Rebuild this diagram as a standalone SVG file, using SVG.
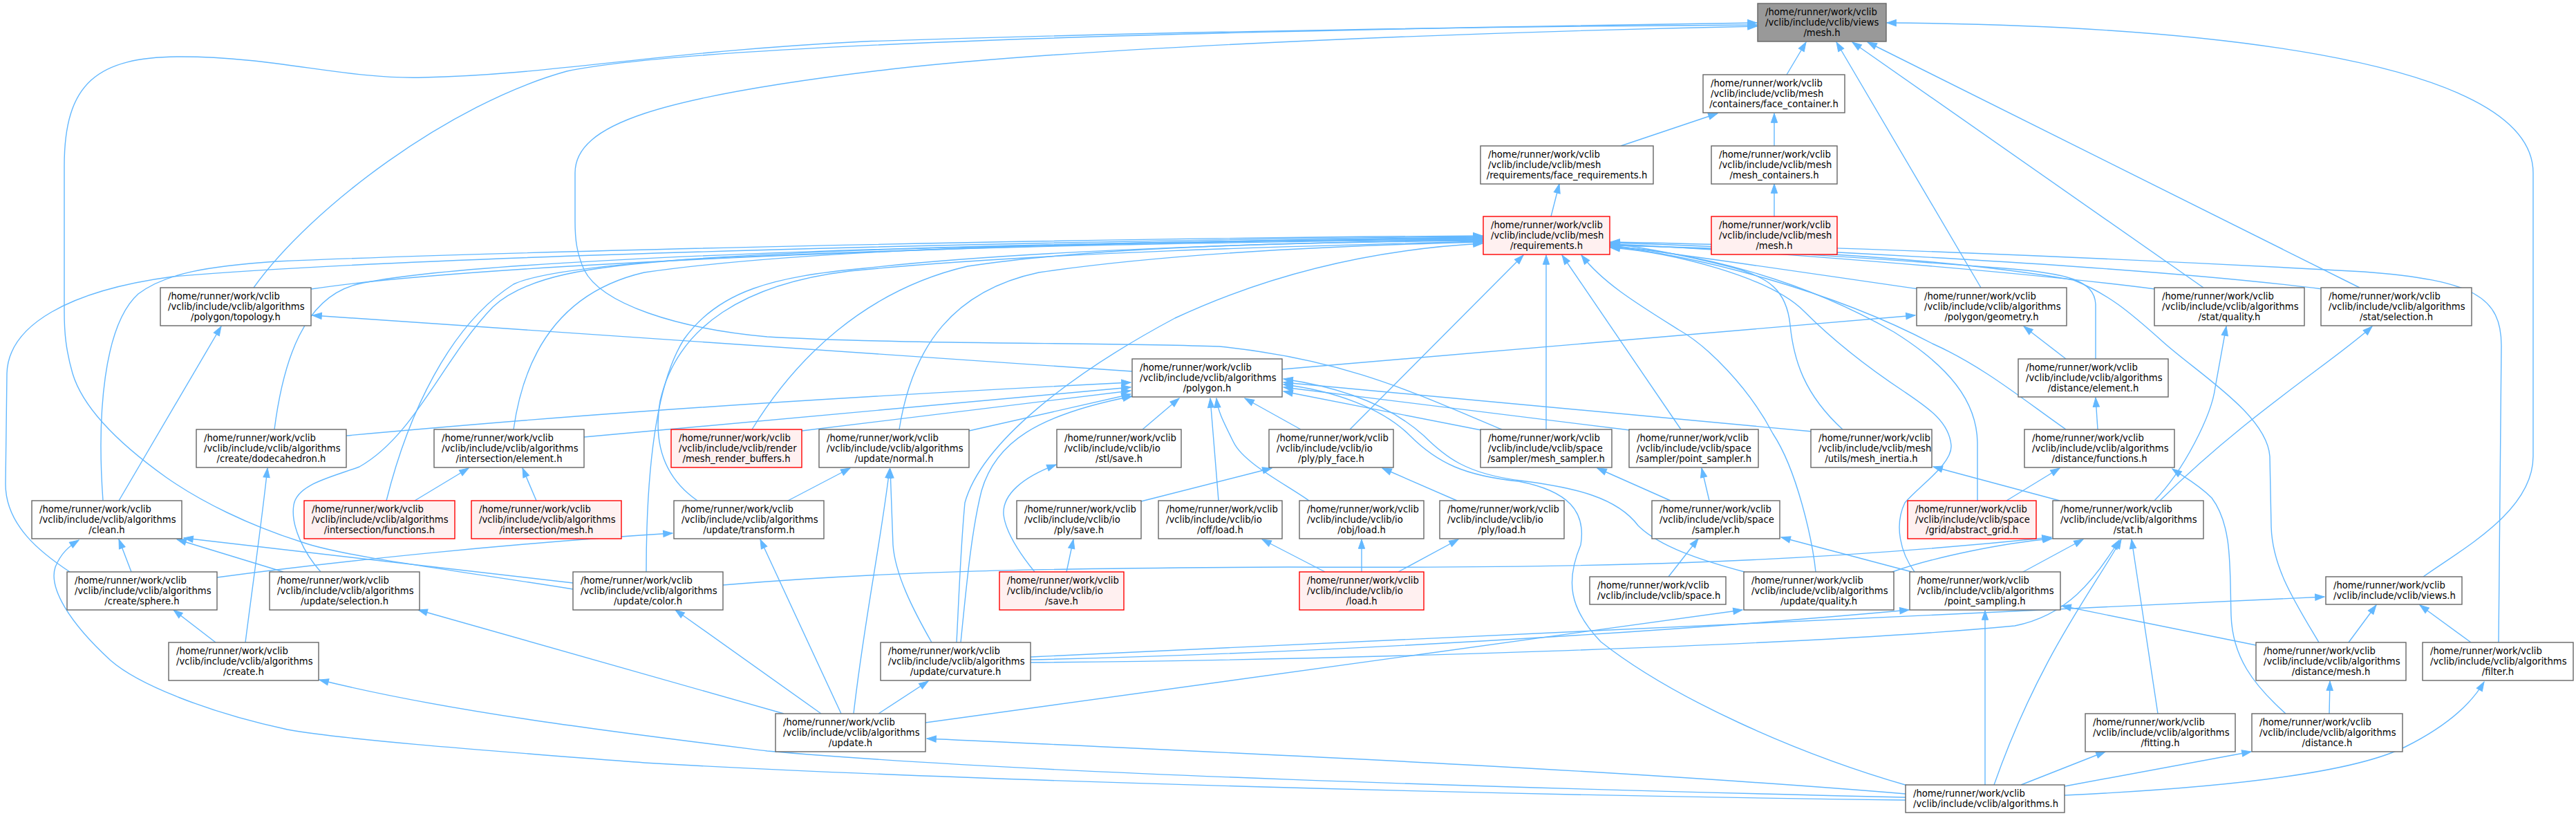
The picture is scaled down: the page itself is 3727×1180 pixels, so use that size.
<svg xmlns="http://www.w3.org/2000/svg" width="3727" height="1180" viewBox="0 0 3727 1180">
<defs>
<style>
.n rect{fill:#ffffff;stroke:#666666;stroke-width:1.4}
.n.r rect{fill:#fff0f0;stroke:#ff0000}
.n.g rect{fill:#999999;stroke:#666666}
.n text{font-family:"DejaVu Sans",sans-serif;font-size:13.2px;fill:#000000}
.n text.c{text-anchor:middle}
#edges path{fill:none;stroke:#63b8ff;stroke-width:1.4;marker-end:url(#a)}
</style>
<marker id="a" markerUnits="userSpaceOnUse" viewBox="0 0 14 10" markerWidth="14" markerHeight="10" refX="13.3" refY="4.65" orient="auto" overflow="visible">
<path d="M0,0L13.3,4.65L0,9.3z" fill="#63b8ff" stroke="#63b8ff" stroke-width="1"/>
</marker>
</defs>
<rect x="0" y="0" width="3727" height="1180" fill="#ffffff"/>
<g id="edges">
<path d="M2585,108 L2613,61"/>
<path d="M2345,211 L2485,164"/>
<path d="M2567,211 L2567,164"/>
<path d="M2244,313 L2256,266"/>
<path d="M2567,313 L2567,266"/>
<path d="M2866,416 L2657,61"/>
<path d="M3188,416 L2680,61"/>
<path d="M3414,416 L2702,61"/>
<path d="M3506,834 C3560,795 3665,740 3665,660 L3665,250 C3665,80 3150,36 2730,33"/>
<path d="M367,416 C450,300 650,150 820,103 C1000,65 1700,45 2542,33"/>
<path d="M829,852 C640,822 500,805 440,785 C360,760 290,725 240,690 C170,640 120,590 105,540 C95,505 93,480 93,450 L93,240 C93,120 140,82 262,82 C400,82 500,115 612,112 C800,108 950,75 1250,60 C1700,45 2200,38 2542,36"/>
<path d="M2173,621 C2050,570 1950,520 1764,501 C1600,495 1300,498 1110,487 C980,475 870,440 845,390 C834,365 832,345 832,320 L832,250 C832,180 950,140 1289,100 C1600,65 2200,45 2542,38"/>
<path d="M450,418 C700,380 1500,350 2145,343"/>
<path d="M149,724 C140,600 150,470 200,425 C240,395 300,385 400,378 C700,365 1500,345 2145,341"/>
<path d="M101,827 C60,800 8,760 8,700 L10,540 C12,470 100,420 250,400 C600,370 1500,348 2145,342"/>
<path d="M397,621 C410,520 440,430 517,411 C700,370 1500,350 2145,344"/>
<path d="M743,621 C760,500 820,420 932,394 C1200,355 1700,348 2145,345"/>
<path d="M559,724 C590,600 650,470 743,411 C850,360 1600,350 2145,346"/>
<path d="M1088,621 C1150,520 1250,420 1400,385 C1600,355 1900,350 2145,348"/>
<path d="M1301,621 C1320,500 1380,420 1503,394 C1700,365 1950,355 2145,350"/>
<path d="M1009,724 C960,690 945,640 955,580 C980,470 1080,410 1229,392 C1500,365 1900,355 2145,349"/>
<path d="M935,827 C935,700 945,560 990,490 C1040,420 1120,400 1250,388 C1500,360 1900,350 2145,347"/>
<path d="M464,827 C440,800 420,760 425,730 C430,700 480,690 520,675 C600,630 640,520 713,444 C760,400 850,385 1000,375 C1400,355 1800,350 2145,346"/>
<path d="M1384,929 C1388,850 1390,790 1396,727 C1420,640 1550,540 1700,460 C1850,390 2000,360 2145,352"/>
<path d="M1953,621 L2204,369"/>
<path d="M2237,621 L2237,369"/>
<path d="M2432,621 L2260,369"/>
<path d="M2627,827 C2622,780 2600,680 2565,627 C2530,560 2470,500 2429,477 C2370,440 2320,410 2288,369"/>
<path d="M2666,621 C2610,570 2595,520 2590,470 C2585,420 2560,400 2500,385 C2420,365 2370,357 2330,352"/>
<path d="M2776,418 C2650,400 2450,370 2330,355"/>
<path d="M2861,724 L2861,640 C2860,580 2820,530 2740,480 C2600,400 2450,365 2330,356"/>
<path d="M2989,621 C2930,580 2870,530 2796,497 C2650,420 2450,368 2330,357"/>
<path d="M2770,827 C2750,800 2740,760 2756,727 C2780,700 2825,670 2823,644 C2820,610 2790,590 2756,567 C2700,530 2650,490 2610,450 C2560,400 2420,365 2330,358"/>
<path d="M3118,418 C2900,390 2500,360 2330,353"/>
<path d="M3032,519 L3032,440 C3030,405 2990,395 2900,388 C2600,365 2450,358 2330,354"/>
<path d="M3355,929 C3320,870 3287,820 3286,760 L3284,660 C3280,600 3180,540 3129,494 C3080,450 3050,425 3000,405 C2800,370 2500,358 2330,355"/>
<path d="M3360,418 C3100,385 2600,360 2330,351"/>
<path d="M3615,929 L3619,500 C3619,430 3580,405 3420,393 C3000,370 2600,355 2330,350"/>
<path d="M1638,537 C1300,512 900,485 452,456"/>
<path d="M1855,534 L2771,456"/>
<path d="M501,630 C700,612 1000,585 1636,553"/>
<path d="M845,632 L1636,560"/>
<path d="M1160,623 L1636,565"/>
<path d="M1402,623 L1636,570"/>
<path d="M1390,929 C1398,850 1405,770 1420,710 C1440,640 1500,600 1638,573"/>
<path d="M1653,621 L1706,576"/>
<path d="M1763,724 L1751,576"/>
<path d="M1894,724 C1860,700 1800,670 1785,640 C1770,610 1762,595 1760,576"/>
<path d="M1882,621 L1801,576"/>
<path d="M2143,622 L1857,566"/>
<path d="M2358,622 L1857,560"/>
<path d="M2622,624 L1857,553"/>
<path d="M2760,1136 C2600,1090 2420,1010 2316,928 C2270,880 2265,840 2287,788 C2295,740 2270,710 2197,696 C2120,688 2080,670 2040,630 C2000,590 1930,565 1857,556"/>
<path d="M2524,827 C2460,810 2400,790 2370,760 C2340,720 2280,705 2200,695 C2120,685 2090,660 2060,630 C2010,585 1940,560 1857,548"/>
<path d="M1348,929 C1320,880 1295,830 1292,788 L1288,678"/>
<path d="M1235,1032 C1250,900 1275,780 1287,678"/>
<path d="M1217,1032 L1100,780"/>
<path d="M1188,1032 L977,882"/>
<path d="M1271,1032 L1343,985"/>
<path d="M1134,1032 L605,882"/>
<path d="M1339,1045 L2521,882"/>
<path d="M2757,1148 C2300,1110 1700,1085 1341,1068"/>
<path d="M2757,1153 C2200,1140 1500,1120 1110,1086 C900,1060 650,1030 462,983"/>
<path d="M2757,1157 C2200,1150 1400,1130 932,1103 C700,1085 500,1070 416,1055 C300,1030 200,990 160,955 C100,900 70,850 80,820 C88,800 100,790 114,781"/>
<path d="M1497,827 C1475,800 1455,770 1452,744 C1450,715 1480,690 1528,672"/>
<path d="M1543,827 L1553,780"/>
<path d="M1917,827 L1826,780"/>
<path d="M1970,827 L1970,780"/>
<path d="M2023,827 L2110,780"/>
<path d="M1651,725 L1840,677"/>
<path d="M2108,724 L2000,677"/>
<path d="M2417,724 L2311,677"/>
<path d="M2473,724 L2462,677"/>
<path d="M2414,834 L2457,779"/>
<path d="M2766,827 L2577,777"/>
<path d="M2980,724 L2797,675"/>
<path d="M3117,724 C3160,680 3200,600 3205,560 C3212,520 3218,490 3221,472"/>
<path d="M3125,724 C3250,600 3380,520 3432,472"/>
<path d="M2927,827 L3014,780"/>
<path d="M3122,1032 L3084,780"/>
<path d="M2885,1135 C2950,950 3030,850 3069,780"/>
<path d="M1491,958 C1900,955 2600,935 2915,905 C2990,890 3030,840 3066,781"/>
<path d="M1491,950 C1900,935 2600,900 3363,863"/>
<path d="M1491,954 C1900,945 2400,915 2762,882"/>
<path d="M2738,827 C2800,805 2900,785 2969,779"/>
<path d="M1046,846 C1300,825 1500,822 1864,820 C2300,822 2600,815 2968,777"/>
<path d="M829,843 C600,815 400,795 266,778"/>
<path d="M410,827 L256,780"/>
<path d="M190,827 L172,780"/>
<path d="M314,835 C500,810 750,785 973,771"/>
<path d="M312,929 L251,882"/>
<path d="M355,929 C365,850 378,760 387,677"/>
<path d="M172,724 L320,472"/>
<path d="M600,724 L678,677"/>
<path d="M776,724 L756,677"/>
<path d="M1140,724 L1230,677"/>
<path d="M2989,519 L2928,472"/>
<path d="M3035,621 L3032,575"/>
<path d="M2903,724 L2980,677"/>
<path d="M3307,1032 C3260,990 3230,950 3228,890 C3226,820 3230,760 3200,720 C3180,700 3160,690 3143,678"/>
<path d="M3370,1032 L3371,985"/>
<path d="M3398,929 L3438,875"/>
<path d="M3575,929 L3501,875"/>
<path d="M3264,933 L2983,876"/>
<path d="M2872,1135 L2872,883"/>
<path d="M2924,1135 L3046,1087"/>
<path d="M2987,1137 L3257,1087"/>
<path d="M2987,1150 C3200,1140 3400,1120 3480,1080 C3550,1045 3580,1010 3594,986"/>
</g>
<g id="node_views_mesh" class="n g"><rect x="2543" y="5" width="186" height="55"/><text x="2554" y="22">/home/runner/work/vclib</text><text x="2554" y="37">/vclib/include/vclib/views</text><text class="c" x="2636" y="52">/mesh.h</text></g>
<g id="node_face_container" class="n"><rect x="2464" y="108" width="205" height="55"/><text x="2475" y="125">/home/runner/work/vclib</text><text x="2475" y="140">/vclib/include/vclib/mesh</text><text class="c" x="2566.5" y="155">/containers/face_container.h</text></g>
<g id="node_face_requirements" class="n"><rect x="2142" y="211" width="250" height="55"/><text x="2153" y="228">/home/runner/work/vclib</text><text x="2153" y="243">/vclib/include/vclib/mesh</text><text class="c" x="2267" y="258">/requirements/face_requirements.h</text></g>
<g id="node_mesh_containers" class="n"><rect x="2476" y="211" width="182" height="55"/><text x="2487" y="228">/home/runner/work/vclib</text><text x="2487" y="243">/vclib/include/vclib/mesh</text><text class="c" x="2567" y="258">/mesh_containers.h</text></g>
<g id="node_requirements" class="n r"><rect x="2146" y="313" width="183" height="55"/><text x="2157" y="330">/home/runner/work/vclib</text><text x="2157" y="345">/vclib/include/vclib/mesh</text><text class="c" x="2237.5" y="360">/requirements.h</text></g>
<g id="node_mesh_mesh" class="n r"><rect x="2476" y="313" width="182" height="55"/><text x="2487" y="330">/home/runner/work/vclib</text><text x="2487" y="345">/vclib/include/vclib/mesh</text><text class="c" x="2567" y="360">/mesh.h</text></g>
<g id="node_topology" class="n"><rect x="232" y="416" width="218" height="55"/><text x="243" y="433">/home/runner/work/vclib</text><text x="243" y="448">/vclib/include/vclib/algorithms</text><text class="c" x="341" y="463">/polygon/topology.h</text></g>
<g id="node_geometry" class="n"><rect x="2773" y="416" width="217" height="55"/><text x="2784" y="433">/home/runner/work/vclib</text><text x="2784" y="448">/vclib/include/vclib/algorithms</text><text class="c" x="2881.5" y="463">/polygon/geometry.h</text></g>
<g id="node_stat_quality" class="n"><rect x="3117" y="416" width="217" height="55"/><text x="3128" y="433">/home/runner/work/vclib</text><text x="3128" y="448">/vclib/include/vclib/algorithms</text><text class="c" x="3225.5" y="463">/stat/quality.h</text></g>
<g id="node_stat_selection" class="n"><rect x="3358" y="416" width="218" height="55"/><text x="3369" y="433">/home/runner/work/vclib</text><text x="3369" y="448">/vclib/include/vclib/algorithms</text><text class="c" x="3467" y="463">/stat/selection.h</text></g>
<g id="node_polygon" class="n"><rect x="1638" y="519" width="217" height="55"/><text x="1649" y="536">/home/runner/work/vclib</text><text x="1649" y="551">/vclib/include/vclib/algorithms</text><text class="c" x="1746.5" y="566">/polygon.h</text></g>
<g id="node_distance_element" class="n"><rect x="2920" y="519" width="217" height="55"/><text x="2931" y="536">/home/runner/work/vclib</text><text x="2931" y="551">/vclib/include/vclib/algorithms</text><text class="c" x="3028.5" y="566">/distance/element.h</text></g>
<g id="node_dodecahedron" class="n"><rect x="284" y="621" width="217" height="55"/><text x="295" y="638">/home/runner/work/vclib</text><text x="295" y="653">/vclib/include/vclib/algorithms</text><text class="c" x="392.5" y="668">/create/dodecahedron.h</text></g>
<g id="node_intersection_element" class="n"><rect x="628" y="621" width="217" height="55"/><text x="639" y="638">/home/runner/work/vclib</text><text x="639" y="653">/vclib/include/vclib/algorithms</text><text class="c" x="736.5" y="668">/intersection/element.h</text></g>
<g id="node_mesh_render_buffers" class="n r"><rect x="971" y="621" width="189" height="55"/><text x="982" y="638">/home/runner/work/vclib</text><text x="982" y="653">/vclib/include/vclib/render</text><text class="c" x="1065.5" y="668">/mesh_render_buffers.h</text></g>
<g id="node_update_normal" class="n"><rect x="1185" y="621" width="217" height="55"/><text x="1196" y="638">/home/runner/work/vclib</text><text x="1196" y="653">/vclib/include/vclib/algorithms</text><text class="c" x="1293.5" y="668">/update/normal.h</text></g>
<g id="node_stl_save" class="n"><rect x="1529" y="621" width="180" height="55"/><text x="1540" y="638">/home/runner/work/vclib</text><text x="1540" y="653">/vclib/include/vclib/io</text><text class="c" x="1619" y="668">/stl/save.h</text></g>
<g id="node_ply_face" class="n"><rect x="1836" y="621" width="180" height="55"/><text x="1847" y="638">/home/runner/work/vclib</text><text x="1847" y="653">/vclib/include/vclib/io</text><text class="c" x="1926" y="668">/ply/ply_face.h</text></g>
<g id="node_mesh_sampler" class="n"><rect x="2142" y="621" width="190" height="55"/><text x="2153" y="638">/home/runner/work/vclib</text><text x="2153" y="653">/vclib/include/vclib/space</text><text class="c" x="2237" y="668">/sampler/mesh_sampler.h</text></g>
<g id="node_point_sampler" class="n"><rect x="2357" y="621" width="187" height="55"/><text x="2368" y="638">/home/runner/work/vclib</text><text x="2368" y="653">/vclib/include/vclib/space</text><text class="c" x="2450.5" y="668">/sampler/point_sampler.h</text></g>
<g id="node_mesh_inertia" class="n"><rect x="2620" y="621" width="175" height="55"/><text x="2631" y="638">/home/runner/work/vclib</text><text x="2631" y="653">/vclib/include/vclib/mesh</text><text class="c" x="2707.5" y="668">/utils/mesh_inertia.h</text></g>
<g id="node_distance_functions" class="n"><rect x="2929" y="621" width="217" height="55"/><text x="2940" y="638">/home/runner/work/vclib</text><text x="2940" y="653">/vclib/include/vclib/algorithms</text><text class="c" x="3037.5" y="668">/distance/functions.h</text></g>
<g id="node_clean" class="n"><rect x="46" y="724" width="217" height="55"/><text x="57" y="741">/home/runner/work/vclib</text><text x="57" y="756">/vclib/include/vclib/algorithms</text><text class="c" x="154.5" y="771">/clean.h</text></g>
<g id="node_intersection_functions" class="n r"><rect x="440" y="724" width="218" height="55"/><text x="451" y="741">/home/runner/work/vclib</text><text x="451" y="756">/vclib/include/vclib/algorithms</text><text class="c" x="549" y="771">/intersection/functions.h</text></g>
<g id="node_intersection_mesh" class="n r"><rect x="682" y="724" width="217" height="55"/><text x="693" y="741">/home/runner/work/vclib</text><text x="693" y="756">/vclib/include/vclib/algorithms</text><text class="c" x="790.5" y="771">/intersection/mesh.h</text></g>
<g id="node_update_transform" class="n"><rect x="975" y="724" width="217" height="55"/><text x="986" y="741">/home/runner/work/vclib</text><text x="986" y="756">/vclib/include/vclib/algorithms</text><text class="c" x="1083.5" y="771">/update/transform.h</text></g>
<g id="node_ply_save" class="n"><rect x="1471" y="724" width="180" height="55"/><text x="1482" y="741">/home/runner/work/vclib</text><text x="1482" y="756">/vclib/include/vclib/io</text><text class="c" x="1561" y="771">/ply/save.h</text></g>
<g id="node_off_load" class="n"><rect x="1676" y="724" width="179" height="55"/><text x="1687" y="741">/home/runner/work/vclib</text><text x="1687" y="756">/vclib/include/vclib/io</text><text class="c" x="1765.5" y="771">/off/load.h</text></g>
<g id="node_obj_load" class="n"><rect x="1880" y="724" width="180" height="55"/><text x="1891" y="741">/home/runner/work/vclib</text><text x="1891" y="756">/vclib/include/vclib/io</text><text class="c" x="1970" y="771">/obj/load.h</text></g>
<g id="node_ply_load" class="n"><rect x="2083" y="724" width="180" height="55"/><text x="2094" y="741">/home/runner/work/vclib</text><text x="2094" y="756">/vclib/include/vclib/io</text><text class="c" x="2173" y="771">/ply/load.h</text></g>
<g id="node_sampler" class="n"><rect x="2390" y="724" width="185" height="55"/><text x="2401" y="741">/home/runner/work/vclib</text><text x="2401" y="756">/vclib/include/vclib/space</text><text class="c" x="2482.5" y="771">/sampler.h</text></g>
<g id="node_abstract_grid" class="n r"><rect x="2760" y="724" width="186" height="55"/><text x="2771" y="741">/home/runner/work/vclib</text><text x="2771" y="756">/vclib/include/vclib/space</text><text class="c" x="2853" y="771">/grid/abstract_grid.h</text></g>
<g id="node_stat" class="n"><rect x="2970" y="724" width="218" height="55"/><text x="2981" y="741">/home/runner/work/vclib</text><text x="2981" y="756">/vclib/include/vclib/algorithms</text><text class="c" x="3079" y="771">/stat.h</text></g>
<g id="node_create_sphere" class="n"><rect x="97" y="827" width="217" height="55"/><text x="108" y="844">/home/runner/work/vclib</text><text x="108" y="859">/vclib/include/vclib/algorithms</text><text class="c" x="205.5" y="874">/create/sphere.h</text></g>
<g id="node_update_selection" class="n"><rect x="390" y="827" width="217" height="55"/><text x="401" y="844">/home/runner/work/vclib</text><text x="401" y="859">/vclib/include/vclib/algorithms</text><text class="c" x="498.5" y="874">/update/selection.h</text></g>
<g id="node_update_color" class="n"><rect x="829" y="827" width="217" height="55"/><text x="840" y="844">/home/runner/work/vclib</text><text x="840" y="859">/vclib/include/vclib/algorithms</text><text class="c" x="937.5" y="874">/update/color.h</text></g>
<g id="node_io_save" class="n r"><rect x="1446" y="827" width="180" height="55"/><text x="1457" y="844">/home/runner/work/vclib</text><text x="1457" y="859">/vclib/include/vclib/io</text><text class="c" x="1536" y="874">/save.h</text></g>
<g id="node_io_load" class="n r"><rect x="1880" y="827" width="180" height="55"/><text x="1891" y="844">/home/runner/work/vclib</text><text x="1891" y="859">/vclib/include/vclib/io</text><text class="c" x="1970" y="874">/load.h</text></g>
<g id="node_space" class="n"><rect x="2300" y="834" width="197" height="40"/><text x="2311" y="851">/home/runner/work/vclib</text><text x="2311" y="866">/vclib/include/vclib/space.h</text></g>
<g id="node_update_quality" class="n"><rect x="2523" y="827" width="217" height="55"/><text x="2534" y="844">/home/runner/work/vclib</text><text x="2534" y="859">/vclib/include/vclib/algorithms</text><text class="c" x="2631.5" y="874">/update/quality.h</text></g>
<g id="node_point_sampling" class="n"><rect x="2763" y="827" width="218" height="55"/><text x="2774" y="844">/home/runner/work/vclib</text><text x="2774" y="859">/vclib/include/vclib/algorithms</text><text class="c" x="2872" y="874">/point_sampling.h</text></g>
<g id="node_views" class="n"><rect x="3365" y="834" width="197" height="40"/><text x="3376" y="851">/home/runner/work/vclib</text><text x="3376" y="866">/vclib/include/vclib/views.h</text></g>
<g id="node_create" class="n"><rect x="244" y="929" width="217" height="55"/><text x="255" y="946">/home/runner/work/vclib</text><text x="255" y="961">/vclib/include/vclib/algorithms</text><text class="c" x="352.5" y="976">/create.h</text></g>
<g id="node_update_curvature" class="n"><rect x="1274" y="929" width="217" height="55"/><text x="1285" y="946">/home/runner/work/vclib</text><text x="1285" y="961">/vclib/include/vclib/algorithms</text><text class="c" x="1382.5" y="976">/update/curvature.h</text></g>
<g id="node_distance_mesh" class="n"><rect x="3264" y="929" width="217" height="55"/><text x="3275" y="946">/home/runner/work/vclib</text><text x="3275" y="961">/vclib/include/vclib/algorithms</text><text class="c" x="3372.5" y="976">/distance/mesh.h</text></g>
<g id="node_filter" class="n"><rect x="3505" y="929" width="218" height="55"/><text x="3516" y="946">/home/runner/work/vclib</text><text x="3516" y="961">/vclib/include/vclib/algorithms</text><text class="c" x="3614" y="976">/filter.h</text></g>
<g id="node_update" class="n"><rect x="1122" y="1032" width="217" height="55"/><text x="1133" y="1049">/home/runner/work/vclib</text><text x="1133" y="1064">/vclib/include/vclib/algorithms</text><text class="c" x="1230.5" y="1079">/update.h</text></g>
<g id="node_fitting" class="n"><rect x="3017" y="1032" width="217" height="55"/><text x="3028" y="1049">/home/runner/work/vclib</text><text x="3028" y="1064">/vclib/include/vclib/algorithms</text><text class="c" x="3125.5" y="1079">/fitting.h</text></g>
<g id="node_distance" class="n"><rect x="3258" y="1032" width="218" height="55"/><text x="3269" y="1049">/home/runner/work/vclib</text><text x="3269" y="1064">/vclib/include/vclib/algorithms</text><text class="c" x="3367" y="1079">/distance.h</text></g>
<g id="node_algorithms" class="n"><rect x="2757" y="1135" width="230" height="40"/><text x="2768" y="1152">/home/runner/work/vclib</text><text x="2768" y="1167">/vclib/include/vclib/algorithms.h</text></g>
</svg>
